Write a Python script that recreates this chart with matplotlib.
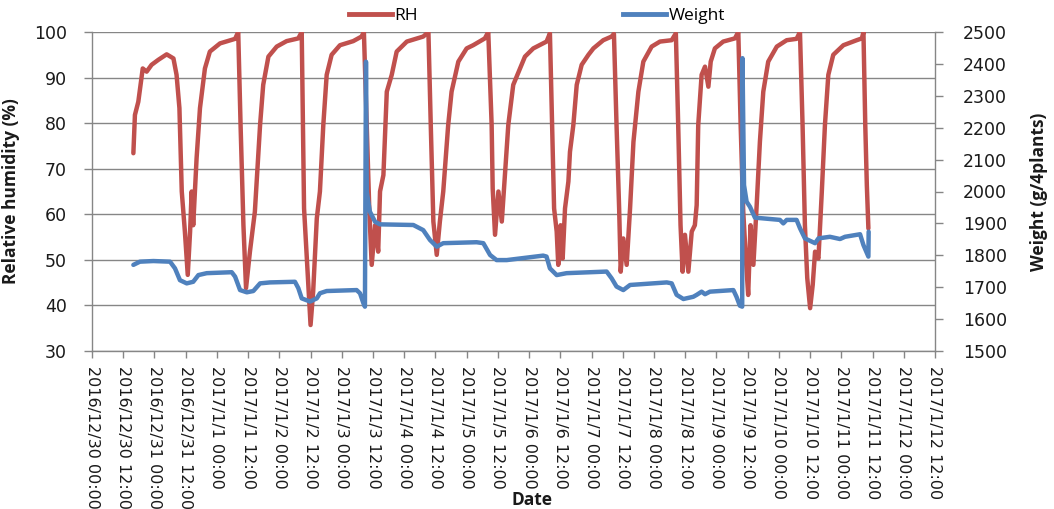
import matplotlib
matplotlib.use("Agg")
import matplotlib.pyplot as plt
from matplotlib.lines import Line2D

# ---------------- data (hours after 2016/12/30 00:00) ----------------
rh_hours = [
    15.9, 16.5, 17.8, 19.5, 21.0, 22.9, 25.5, 28.7, 31.3, 32.5, 33.6,
    34.5, 35.7, 36.8, 37.7, 38.3, 38.9, 40.2, 41.5, 43.4, 45.3, 49.2, 55.0, 56.2,
    57.1, 58.2, 59.2, 60.7, 62.6, 64.6, 65.8, 67.8, 71.0, 74.8, 79.3, 80.6,
    81.5, 84.0, 85.0, 86.4, 87.6, 88.9, 90.2, 92.1, 95.3, 100.4, 103.6, 104.5,
    105.6, 106.6, 107.5, 108.8, 110.0, 110.7, 112.0, 113.3, 115.2, 117.1, 121.0, 127.3, 129.3,
    130.2, 131.2, 132.5, 133.7, 135.0, 136.9, 138.2, 140.8, 144.0, 146.5, 151.0, 152.3,
    153.6, 154.0, 154.9, 156.2, 157.5, 158.5, 160.0, 161.9, 163.2, 166.4, 169.6, 174.7, 176.0,
    176.7, 177.6, 178.6, 179.2, 180.1, 180.9, 181.8, 183.1, 183.7, 185.0, 186.3, 188.2, 190.8, 192.7, 196.5, 199.7, 200.6,
    201.6, 202.6, 203.2, 204.2, 205.5, 206.8, 208.1, 210.0, 211.9, 215.1, 218.3, 222.8, 224.4,
    225.3, 226.2, 227.0, 227.9, 229.2, 230.5, 231.7, 232.4, 233.0, 234.3, 235.6, 236.9, 237.8, 239.4, 242.6, 247.1, 248.4,
    249.3, 250.3, 251.3, 252.2, 253.1, 254.2, 255.4, 256.7, 258.0, 259.9, 263.2, 267.0, 270.8, 272.1,
    273.1, 274.0, 274.9, 276.0, 277.0, 277.9, 279.2, 280.5, 281.7, 283.0, 284.9, 288.8, 293.9, 295.9, 296.5,
    297.2, 297.8, 298.4,
]
rh_values = [
    73.4, 81.8, 84.7, 92.0, 91.3, 92.8, 93.9, 95.1, 94.2, 90.6, 83.3,
    65.0, 56.2, 46.7, 56.2, 65.0, 57.6, 72.3, 83.3, 92.0, 95.7, 97.5, 98.5, 100,
    79.6, 57.6, 43.8, 51.8, 60.6, 79.6, 88.4, 94.6, 96.8, 98.0, 98.6, 100,
    61.3, 35.7, 43.0, 59.1, 65.0, 79.6, 90.6, 95.0, 97.1, 98.0, 99.0, 100,
    79.6, 60.6, 48.9, 57.6, 51.8, 65.0, 68.6, 86.9, 90.6, 95.7, 97.9, 99.0, 100,
    79.6, 58.4, 51.1, 58.4, 65.0, 79.6, 86.9, 93.5, 96.4, 97.1, 98.6, 100,
    79.6, 65.7, 55.5, 65.0, 58.4, 67.0, 79.6, 88.4, 90.2, 94.6, 96.4, 97.9, 99.7,
    83.3, 61.3, 56.2, 48.9, 57.6, 50.3, 61.3, 67.2, 73.7, 79.6, 88.4, 92.8, 95.0, 96.4, 98.2, 99.0, 99.6,
    79.6, 61.3, 47.4, 54.7, 48.9, 61.3, 75.9, 86.9, 93.5, 96.8, 97.9, 98.2, 99.7,
    79.6, 57.6, 47.4, 55.5, 47.4, 56.2, 57.6, 62.0, 79.6, 90.6, 92.4, 88.0, 93.5, 96.4, 97.9, 98.6, 100,
    79.6, 60.6, 50.3, 42.3, 57.6, 48.9, 61.3, 75.9, 86.9, 93.5, 96.8, 98.2, 98.5, 100,
    79.6, 57.6, 46.0, 39.4, 44.5, 51.8, 50.3, 65.0, 79.6, 90.6, 95.0, 97.1, 98.2, 98.6, 100,
    79.6, 66.4, 56.9,
]

weight_hours = [
    15.9, 18.4, 23.6, 30.0, 31.9, 33.8, 36.4, 38.9, 40.9, 44.1, 53.7, 55.0, 56.9, 59.5,
    62.0, 64.6, 68.4, 78.0, 79.3, 80.6, 83.8, 86.4, 87.6, 90.2, 101.7, 103.0, 104.3, 104.9,
    105.3, 105.6, 106.8, 108.8, 110.7, 123.5, 127.3, 129.9, 132.5, 135.0, 147.8, 150.4, 153.0,
    155.5, 159.4, 173.4, 174.7, 176.0, 178.6, 182.4, 197.8, 199.7, 201.6, 204.2, 206.8, 220.9,
    222.8, 224.7, 227.3, 231.1, 232.4, 234.3, 235.6, 237.5, 246.5, 247.7, 249.0, 249.9, 250.0,
    250.6, 251.6, 252.9, 254.8, 264.4, 265.7, 267.0, 270.8, 272.1, 274.0, 277.9, 279.2, 283.6,
    287.5, 289.4, 295.2, 296.5, 298.4, 298.5,
]
weight_values = [
    1770, 1780, 1782, 1780, 1759, 1722, 1712, 1717, 1738, 1744, 1747, 1733, 1691, 1684,
    1688, 1712, 1715, 1717, 1697, 1665, 1655, 1665, 1681, 1688, 1691, 1681, 1650, 1639,
    2407, 1999, 1937, 1905, 1897, 1895, 1879, 1848, 1827, 1838, 1841, 1838, 1801,
    1785, 1785, 1799, 1796, 1759, 1738, 1744, 1749, 1728, 1702, 1691, 1707, 1715,
    1712, 1676, 1663, 1670, 1676, 1686, 1678, 1686, 1691, 1670, 1642, 1639, 2418,
    2020, 1968, 1952, 1918, 1911, 1900, 1911, 1911, 1885, 1853, 1838, 1853, 1858,
    1851, 1858, 1866, 1832, 1796, 1874,
]

tick_hours = list(range(0, 325, 12))
tick_labels = [
    "2016/12/30 00:00", "2016/12/30 12:00", "2016/12/31 00:00", "2016/12/31 12:00",
    "2017/1/1 00:00", "2017/1/1 12:00", "2017/1/2 00:00", "2017/1/2 12:00",
    "2017/1/3 00:00", "2017/1/3 12:00", "2017/1/4 00:00", "2017/1/4 12:00",
    "2017/1/5 00:00", "2017/1/5 12:00", "2017/1/6 00:00", "2017/1/6 12:00",
    "2017/1/7 00:00", "2017/1/7 12:00", "2017/1/8 00:00", "2017/1/8 12:00",
    "2017/1/9 00:00", "2017/1/9 12:00", "2017/1/10 00:00", "2017/1/10 12:00",
    "2017/1/11 00:00", "2017/1/11 12:00", "2017/1/12 00:00", "2017/1/12 12:00",
]

# ---------------- style ----------------
RED = "#C0504D"
BLUE = "#4F81BD"
GRAY = "#868686"
TXT = "#1a1a1a"

fig = plt.figure(figsize=(10.54, 5.09), dpi=100)
ax = fig.add_axes([92 / 1054, 1 - 351 / 509, (935 - 92) / 1054, (351 - 32) / 509])
ax2 = ax.twinx()

ax.plot(rh_hours, rh_values, color=RED, lw=3.2, solid_joinstyle="round",
        solid_capstyle="round", zorder=3)
ax2.plot(weight_hours, weight_values, color=BLUE, lw=3.2, solid_joinstyle="round",
         solid_capstyle="round", zorder=3)

ax.set_xlim(0, 324)
ax.set_ylim(30, 100)
ax2.set_ylim(1500, 2500)
ax.set_yticks(range(30, 101, 10))
ax2.set_yticks(range(1500, 2501, 100))
ax.set_xticks(tick_hours)
ax.set_xticklabels(tick_labels, rotation=-90, ha="center", va="top",
                   fontsize=11.5, color=TXT, family="DejaVu Sans")

ax.grid(axis="y", color=GRAY, lw=1.0)
ax.set_axisbelow(True)

for a in (ax, ax2):
    a.spines["top"].set_visible(False)
    for s in ("left", "right", "bottom"):
        a.spines[s].set_color(GRAY)
        a.spines[s].set_linewidth(1.0)
ax.spines["right"].set_visible(False)
ax2.spines["left"].set_visible(False)
ax2.spines["bottom"].set_visible(False)

ax.tick_params(axis="x", direction="out", length=5, width=1, color=GRAY, pad=6)
ax.tick_params(axis="y", direction="out", length=6, width=1, color=GRAY, pad=12,
               labelsize=12.5, labelcolor=TXT)
ax2.tick_params(axis="y", direction="out", length=6, width=1, color=GRAY, pad=14,
                labelsize=12.5, labelcolor=TXT)

ax.set_ylabel("Relative humidity (%)", fontsize=12.5, fontweight="bold",
              family="Open Sans", color=TXT)
ax2.set_ylabel("Weight (g/4plants)", fontsize=12.5, fontweight="bold",
               family="Open Sans", color=TXT, rotation=90)
ax.yaxis.set_label_coords(-0.085, 0.5)
ax2.yaxis.set_label_coords(1.113, 0.5)

fig.text(532 / 1054, 1 - 500 / 509, "Date", ha="center", va="center",
         fontsize=12.5, fontweight="bold", family="Open Sans", color=TXT)

handles = [Line2D([], [], color=RED, lw=3.5), Line2D([], [], color=BLUE, lw=3.5)]
fig.legend(handles, ["RH", "Weight"], loc="center", bbox_to_anchor=(537 / 1054, 1 - 16 / 509),
           ncol=2, frameon=False, handlelength=2.5, handletextpad=0.15,
           columnspacing=11.8, prop={"family": "Open Sans", "size": 12.5})

fig.savefig("out.png", dpi=100)
